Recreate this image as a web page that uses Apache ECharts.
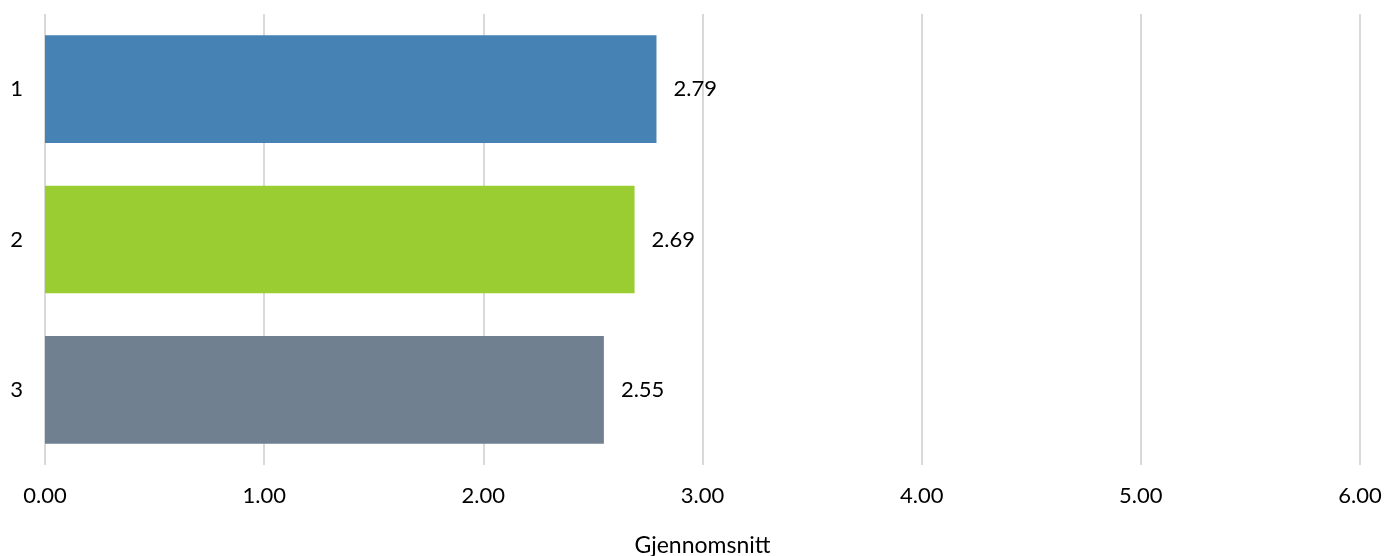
<!DOCTYPE html>
<html>
<head>
<meta charset="utf-8">
<script src="https://cdn.jsdelivr.net/npm/echarts@6/dist/echarts.min.js"></script>
<style>
html,body{margin:0;padding:0;background:#fff;}
#chart{width:1389px;height:556px;}
</style>
</head>
<body>
<div id="chart"></div>
<script>
const categories = ['1', '2', '3'];
const values = [2.79, 2.69, 2.55];
const barColors = ['#4682B4', '#9ACD32', '#708090'];
const xTicks = [0, 1, 2, 3, 4, 5, 6];
const xAxisName = 'Gjennomsnitt';

const chart = echarts.init(document.getElementById('chart'));
const font = 'Lato, "Open Sans", sans-serif';
chart.setOption({
  animation: false,
  backgroundColor: '#fff',
  grid: { left: 45, right: 29, top: 14, bottom: 91, containLabel: false, outerBoundsMode: 'none' },
  xAxis: {
    type: 'value',
    min: xTicks[0],
    max: xTicks[xTicks.length - 1],
    interval: 1,
    name: xAxisName,
    nameLocation: 'middle',
    nameGap: 69,
    nameTextStyle: { fontFamily: font, fontSize: 23, color: '#000' },
    axisLine: { show: false },
    axisTick: { show: false },
    axisLabel: {
      fontFamily: font, fontSize: 22, color: '#000', margin: 20,
      formatter: v => v.toFixed(2)
    },
    splitLine: { show: true, lineStyle: { color: '#d9d9d9', width: 2 } }
  },
  yAxis: {
    type: 'category',
    data: categories,
    inverse: true,
    axisLine: { show: false },
    axisTick: { show: false },
    axisLabel: { fontFamily: font, fontSize: 22, color: '#000', margin: 22 }
  },
  series: [{
    type: 'bar',
    data: values.map((v, i) => ({ value: v, itemStyle: { color: barColors[i] } })),
    barCategoryGap: '28.4%',
    label: {
      show: true,
      position: 'right',
      distance: 17,
      fontFamily: font,
      fontSize: 22,
      color: '#000',
      formatter: p => p.value.toFixed(2)
    }
  }]
});
</script>
</body>
</html>
